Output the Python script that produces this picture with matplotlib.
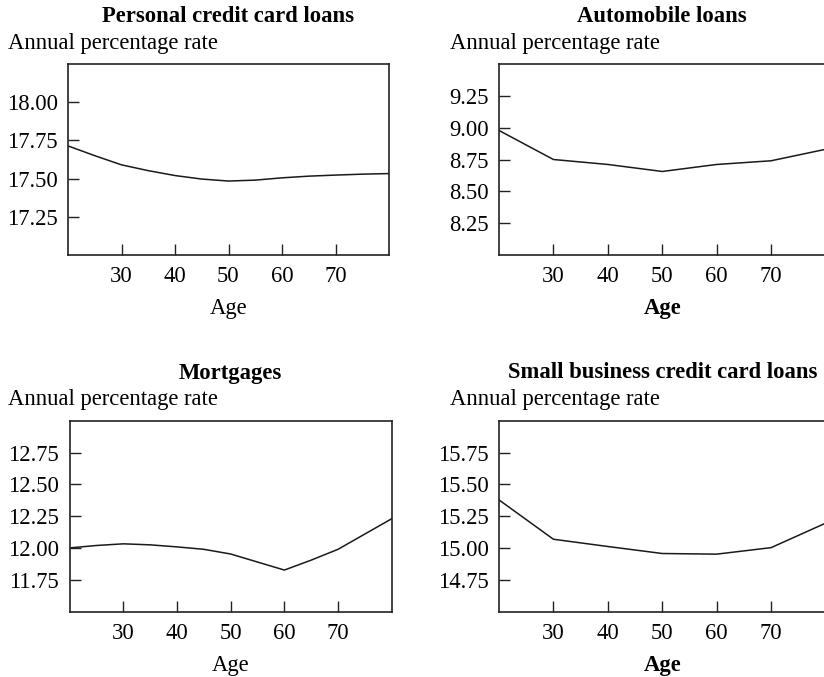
import matplotlib

matplotlib.use("Agg")
import matplotlib.pyplot as plt

plt.rcParams["font.family"] = ["Liberation Serif", "DejaVu Serif"]

W, H = 824, 677

# Data (age vs. annual percentage rate)
age_smooth = [20, 25, 30, 35, 40, 45, 50, 55, 60, 65, 70, 75, 80]
personal_cc = [17.714, 17.65, 17.59, 17.552, 17.52, 17.497, 17.484, 17.49, 17.505, 17.516, 17.523, 17.529, 17.533]
mortgages = [12.001, 12.02, 12.033, 12.025, 12.009, 11.99, 11.953, 11.89, 11.827, 11.905, 11.99, 12.11, 12.23]

age_decades = [20, 30, 40, 50, 60, 70, 80]
auto_loans = [8.978, 8.75, 8.711, 8.656, 8.711, 8.74, 8.83]
small_biz_cc = [15.378, 15.069, 15.012, 14.957, 14.952, 15.003, 15.195]

xticks = [30, 40, 50, 60, 70]

panels = [
    # title, x, y, yticks, ylim, axes box (px: left, top, right, bottom), ylabel pos, bold Age
    ("Personal credit card loans", age_smooth, personal_cc, [17.25, 17.5, 17.75, 18.0], (17.0, 18.25),
     (68, 64, 389, 255), (8, 43), False),
    ("Automobile loans", age_decades, auto_loans, [8.25, 8.5, 8.75, 9.0, 9.25], (8.0, 9.5),
     (499, 64, 825.5, 255), (450, 43), True),
    ("Mortgages", age_smooth, mortgages, [11.75, 12.0, 12.25, 12.5, 12.75], (11.5, 13.0),
     (69.7, 420.7, 391.7, 611.7), (8, 399), False),
    ("Small business credit card loans", age_decades, small_biz_cc, [14.75, 15.0, 15.25, 15.5, 15.75], (14.5, 16.0),
     (499, 420.7, 825.5, 611.7), (450, 399), True),
]

FS = 16.3

fig = plt.figure(figsize=(W / 100, H / 100), dpi=100)

for title, xs, ys, yticks, ylim, box, ylab_pos, bold_age in panels:
    l, t, r, b = box
    ax = fig.add_axes([l / W, 1 - b / H, (r - l) / W, (b - t) / H])
    ax.plot(xs, ys, color="#1a1a1a", linewidth=1.1)
    ax.set_xlim(20, 80)
    ax.set_ylim(*ylim)
    ax.set_xticks(xticks)
    ax.set_yticks(yticks)
    ax.set_yticklabels([f"{v:.2f}" for v in yticks])
    ax.tick_params(direction="in", length=8, width=1.0, color="#222222", labelsize=FS)
    ax.tick_params(axis="x", pad=8)
    ax.tick_params(axis="y", pad=7.5)
    for sp in ax.spines.values():
        sp.set_linewidth(1.2)
        sp.set_color("#222222")
    ax.set_xlabel("Age", fontsize=FS, fontweight="bold" if bold_age else "normal", labelpad=8)
    title_y = 16 if t < 200 else 373
    fig.text(((l + r) / 2) / W, 1 - title_y / H, title, fontsize=FS,
             fontweight="bold", ha="center", va="center")
    fig.text(ylab_pos[0] / W, 1 - ylab_pos[1] / H, "Annual percentage rate", fontsize=FS,
             ha="left", va="center")

plt.savefig("out.png", dpi=100)
plt.close()
